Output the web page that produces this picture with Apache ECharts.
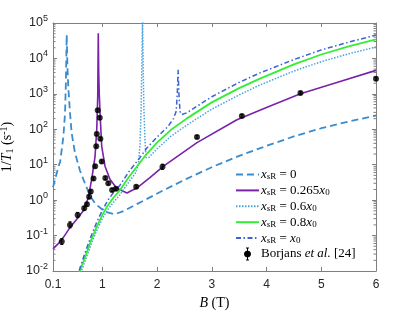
<!DOCTYPE html>
<html><head><meta charset="utf-8">
<script src="https://cdn.jsdelivr.net/npm/echarts@6/dist/echarts.min.js"></script>
<style>html,body{margin:0;padding:0;background:#fff}#c{width:415px;height:312px}</style>
</head><body><div id="c"></div>
<script>
// tick labels
const xTickValues = [0.1, 1, 2, 3, 4, 5, 6];
const xMajorTicks = [1, 2, 3, 4, 5];
const yDecades = [-2, -1, 0, 1, 2, 3, 4];
const yMinorMult = [2, 3, 4, 5, 6, 7, 8, 9];

// x_sR = 0 (dashed)
const b_0 = [0.1,0.15,0.2,0.23,0.26,0.29,0.32,0.335,0.35,0.365,0.38,0.41,0.44,0.5,0.59,0.69,0.78,0.87,1.05,1.23,1.4,1.57,1.87,2.12,2.54,3.0,3.5,4.0,4.5,5.0,5.5,6.0];
const y_0 = [2.3,4.5,9,12,27,63,290,2000,46000,5000,1500,300,80,22,7,2.8,1.3,0.8,0.47,0.40,0.5,0.69,1.2,1.9,4.0,8.5,17.8,34,63,107,166,245];

// x_sR = 0.265 x0 (purple)
const b_265 = [0.1,0.2,0.29,0.4,0.533,0.654,0.745,0.807,0.868,0.899,0.917,0.927,0.935,0.945,0.959,0.99,1.05,1.14,1.26,1.45,1.63,1.87,2.12,2.73,3.46,4.0,4.62,5.3,6.0];
const y_265 = [0.042,0.060,0.089,0.16,0.29,0.50,1.17,3.9,17,98,850,51000,4000,1000,290,33,9.1,3.9,2.2,1.6,2.2,4.3,9.1,42,186,410,1000,2130,4600];

// x_sR = 0.6 x0 (dotted)
const b_06 = [0.56,0.6,0.62,0.7,0.8,0.9,1.0,1.1,1.2,1.32,1.5,1.6,1.66,1.69,1.71,1.725,1.735,1.745,1.76,1.78,1.8,1.85,2.0,2.25,2.54,3.0,3.5,3.88,4.5,5.0,5.5,6.0];
const y_06 = [0.005,0.0079,0.010,0.022,0.059,0.14,0.30,0.54,0.85,1.4,3.5,5.6,10,40,400,10000,160000,10000,400,50,16,16,28,63,130,370,930,1780,4400,8100,13500,21000];

// x_sR = 0.8 x0 (green)
const b_08 = [0.55,0.59,0.7,0.8,0.9,1.0,1.1,1.2,1.32,1.5,1.69,1.81,2.0,2.25,2.54,3.0,3.5,3.88,4.5,5.0,5.5,6.0];
const y_08 = [0.0069,0.010,0.028,0.076,0.18,0.38,0.71,1.15,1.9,4.8,11.5,20,42,95,200,575,1450,2700,6800,12900,21900,34700];

// x_sR = x0 (dash-dot)
const b_1 = [0.53,0.575,0.7,0.8,0.9,1.0,1.1,1.2,1.32,1.5,1.69,1.81,2.0,2.2,2.3,2.35,2.37,2.385,2.4,2.42,2.45,2.54,3.0,3.5,3.88,4.5,5.0,5.5,6.0];
const y_1 = [0.005,0.010,0.038,0.10,0.24,0.51,0.98,1.6,2.6,6.8,16,29,60,120,200,320,1000,4800,1000,320,260,290,830,2100,3900,9300,17400,28800,45700];

// Borjans et al. [24]
const ptB = [0.26,0.41,0.55,0.67,0.72,0.76,0.79,0.84,0.87,0.89,0.90,0.917,0.954,0.965,0.99,1.056,1.11,1.18,1.25,1.62,2.1,2.73,3.55,4.62,6.0];
const ptY = [0.068,0.20,0.38,0.59,0.76,1.25,1.74,4.1,9.0,33,74,343,210,54,12.4,4.2,3.0,1.93,2.1,2.4,8.7,61,238,1050,2680];
const ptLo = [0.056,0.165,0.32,0.52,0.68,1.1,1.55,3.7,8.1,30,67,310,190,49,11.2,3.8,2.7,1.74,1.9,2.15,7.4,55,215,950,2420];
const ptHi = [0.082,0.245,0.45,0.67,0.85,1.4,1.95,4.5,9.9,36,81,376,231,59,13.6,4.6,3.3,2.12,2.3,2.65,10.3,67,261,1155,2950];

const pairs = (b, y) => b.map((v, i) => [v, y[i]]);
const minorTickData = [];
yDecades.forEach(d => yMinorMult.forEach(m => minorTickData.push([0.1, m * Math.pow(10, d)])));

const AX = '#7f7f7f', TX = '#262626';
const SERIF = 'Liberation Serif', SANS = 'Liberation Sans';

const legendRich = {
  n: {fontFamily: SERIF, fontSize: 13, lineHeight: 14, color: '#000'},
  i: {fontFamily: SERIF, fontSize: 13, lineHeight: 14, fontStyle: 'italic', color: '#000'},
  si: {fontFamily: SERIF, fontSize: 9, lineHeight: 8, fontStyle: 'italic', verticalAlign: 'bottom', color: '#000'},
  sr: {fontFamily: SERIF, fontSize: 9, lineHeight: 8, verticalAlign: 'bottom', color: '#000'}
};
const xsR = '{i|x}{si|s}{sr|R}{n| = }';
const legendText = {
  'xsR0': xsR + '{n|0}',
  'xsR265': xsR + '{n|0.265}{i|x}{sr|0}',
  'xsR06': xsR + '{n|0.6}{i|x}{sr|0}',
  'xsR08': xsR + '{n|0.8}{i|x}{sr|0}',
  'xsR1': xsR + '{i|x}{sr|0}',
  'Borjans': '{n|Borjans }{i|et al.}{n| [24]}'
};

const chart = echarts.init(document.getElementById('c'), null, {renderer: 'canvas'});
const lineSeries = (name, data, color, width, type, z) => ({
  name, type: 'line', data, symbol: 'none', showSymbol: false, smooth: false, clip: true, z: z || 2,
  lineStyle: {color, width, type}, itemStyle: {color}
});

chart.setOption({
  animation: false,
  backgroundColor: '#fff',
  grid: {left: 53, right: 39, top: 23, bottom: 41, outerBoundsMode: 'none', containLabel: false},
  legend: {
    orient: 'vertical', left: 235, top: 168, itemWidth: 23, itemHeight: 12, itemGap: 2.4,
    padding: 0, selectedMode: false,
    itemStyle: {opacity: 0},
    formatter: n => legendText[n],
    textStyle: {rich: legendRich, padding: [0, 0, 0, -3]},
    data: ['xsR0', 'xsR265', 'xsR06', 'xsR08', 'xsR1',
      {name: 'Borjans', icon: 'path://M0,6L0,6M23,6L23,6M11.5,0L11.5,12M10,0L13,0M10,12L13,12M14.5,6A3,3,0,1,1,8.5,6A3,3,0,1,1,14.5,6Z',
       itemStyle: {color: '#000', borderColor: '#000', borderWidth: 1, opacity: 1}}]
  },
  xAxis: [{
    type: 'value', min: 0.1, max: 6, position: 'bottom',
    name: '{i|B} (T)', nameLocation: 'middle', nameGap: 22,
    nameTextStyle: {fontFamily: SERIF, fontSize: 14, color: '#000', rich: {i: {fontFamily: SERIF, fontSize: 14, fontStyle: 'italic'}}},
    axisLine: {lineStyle: {color: AX, width: 1}},
    axisTick: {inside: true, length: 4, customValues: xMajorTicks, lineStyle: {color: AX}},
    axisLabel: {customValues: xTickValues, margin: 8, color: TX, fontFamily: SANS, fontSize: 12,
      formatter: v => (Math.abs(v - 0.1) < 1e-9 ? '0.1' : String(Math.round(v)))},
    splitLine: {show: false}
  }, {
    type: 'value', min: 0.1, max: 6, position: 'top',
    axisLine: {lineStyle: {color: AX, width: 1}},
    axisTick: {inside: true, length: 4, customValues: xMajorTicks, lineStyle: {color: AX}},
    axisLabel: {show: false}, splitLine: {show: false}
  }],
  yAxis: [{
    type: 'log', logBase: 10, min: 0.01, max: 100000, position: 'left',
    name: '1/{i|T}{sub|1} (s{sup|-1})', nameLocation: 'middle', nameGap: 33, nameRotate: 90,
    nameTextStyle: {fontFamily: SERIF, fontSize: 14, color: '#000', lineHeight: 16,
      rich: {i: {fontFamily: SERIF, fontSize: 14, fontStyle: 'italic', lineHeight: 16},
             sub: {fontFamily: SERIF, fontSize: 10, lineHeight: 10, verticalAlign: 'bottom'},
             sup: {fontFamily: SERIF, fontSize: 10, lineHeight: 8, verticalAlign: 'top'}}},
    axisLine: {show: true, lineStyle: {color: AX, width: 1}},
    axisTick: {inside: true, length: 4, lineStyle: {color: AX}},
    axisLabel: {margin: 5, color: TX,
      formatter: v => '{b|10}{s|' + Math.round(Math.log10(v)) + '}',
      rich: {b: {fontFamily: SANS, fontSize: 12.5, lineHeight: 18, color: TX},
             s: {fontFamily: SANS, fontSize: 9, lineHeight: 8, verticalAlign: 'top', color: TX}}},
    splitLine: {show: false}
  }, {
    type: 'log', logBase: 10, min: 0.01, max: 100000, position: 'right',
    axisLine: {show: true, lineStyle: {color: AX, width: 1}},
    axisTick: {inside: true, length: 4, lineStyle: {color: AX}},
    axisLabel: {show: false}, splitLine: {show: false}
  }],
  series: [
    {
      type: 'custom', silent: true, data: minorTickData, clip: false, z: 1,
      renderItem: (params, api) => {
        const v = api.value(1);
        const l = api.coord([0.1, v]);
        const r = api.coord([6, v]);
        return {type: 'group', children: [
          {type: 'line', shape: {x1: l[0], y1: l[1], x2: l[0] + 2.5, y2: l[1]}, style: {stroke: AX, lineWidth: 1}},
          {type: 'line', shape: {x1: r[0], y1: r[1], x2: r[0] - 2.5, y2: r[1]}, style: {stroke: AX, lineWidth: 1}}
        ]};
      }
    },
    lineSeries('xsR0', pairs(b_0, y_0), '#3a8ccc', 1.8, [7, 4]),
    lineSeries('xsR265', pairs(b_265, y_265), '#7a22a8', 1.6, 'solid'),
    lineSeries('xsR06', pairs(b_06, y_06), '#4aa2e0', 1.5, [1.5, 1.5]),
    lineSeries('xsR08', pairs(b_08, y_08), '#33ee33', 1.8, 'solid'),
    lineSeries('xsR1', pairs(b_1, y_1), '#3b62d6', 1.5, [5, 2.5, 1.5, 2.5]),
    {
      type: 'custom', silent: true, z: 5, clip: false,
      data: ptB.map((b, i) => [b, ptLo[i], ptHi[i]]),
      renderItem: (params, api) => {
        const lo = api.coord([api.value(0), api.value(1)]);
        const hi = api.coord([api.value(0), api.value(2)]);
        return {type: 'group', children: [
          {type: 'line', shape: {x1: lo[0], y1: lo[1], x2: hi[0], y2: hi[1]}, style: {stroke: '#000', lineWidth: 1}},
          {type: 'line', shape: {x1: lo[0] - 1.5, y1: lo[1], x2: lo[0] + 1.5, y2: lo[1]}, style: {stroke: '#000', lineWidth: 1}},
          {type: 'line', shape: {x1: hi[0] - 1.5, y1: hi[1], x2: hi[0] + 1.5, y2: hi[1]}, style: {stroke: '#000', lineWidth: 1}}
        ]};
      }
    },
    {
      name: 'Borjans', type: 'scatter', data: pairs(ptB, ptY), symbol: 'circle', symbolSize: 6,
      clip: false, z: 6, itemStyle: {color: '#000'}
    }
  ]
});
</script></body></html>
